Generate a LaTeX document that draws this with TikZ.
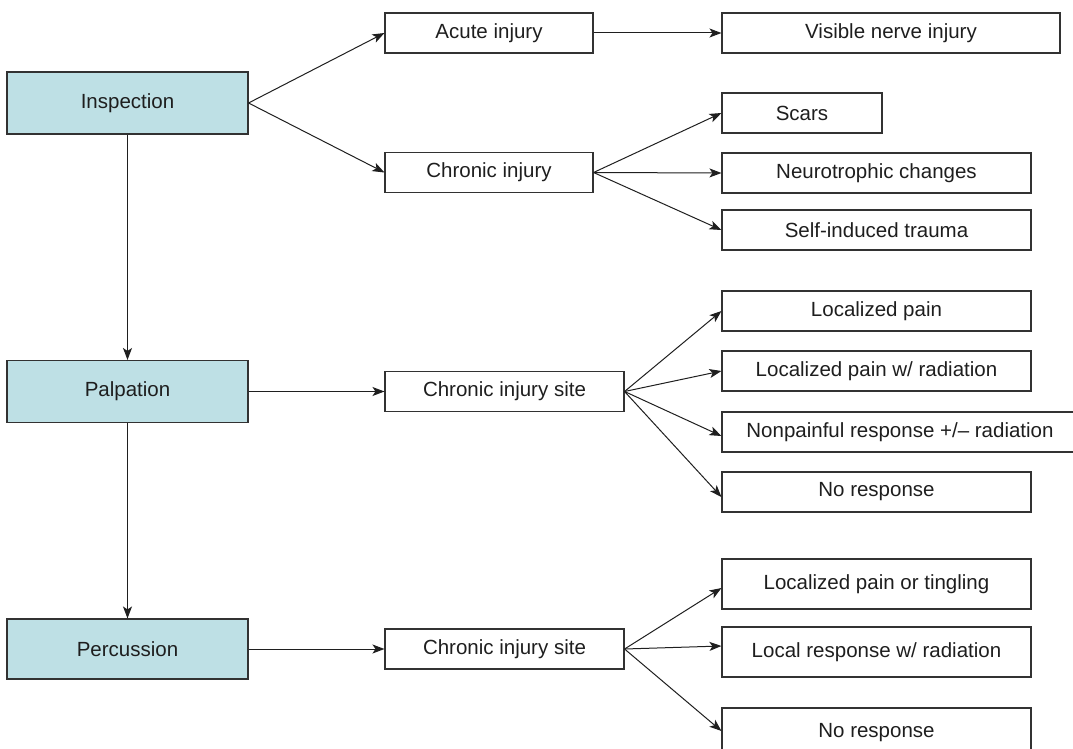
\documentclass[tikz,border=0pt]{standalone}
\usepackage{fontspec}
\setmainfont{Liberation Sans}
\usetikzlibrary{arrows.meta}
\definecolor{boxblue}{RGB}{190,224,229}
\definecolor{edgegray}{RGB}{50,50,50}
\definecolor{txtgray}{RGB}{30,30,30}
\begin{document}
\begin{tikzpicture}[x=1pt,y=-1pt,
  box/.style={draw=edgegray, line width=1.1pt, inner sep=0pt, text=txtgray,
    font=\fontsize{20.5}{24}\selectfont, minimum height=40pt},
  mainbox/.style={box, fill=boxblue, minimum width=241pt, minimum height=62pt},
  arr/.style={draw=black!88, line width=1pt, -{Stealth[length=12pt,width=9pt,inset=3pt]}}]
\useasboundingbox (0,0) rectangle (1073,749);
% left column
\node[mainbox] (insp) at (127.5,103) {Inspection};
\node[mainbox] (palp) at (127.5,391.5) {Palpation};
\node[mainbox, minimum height=60pt] (perc) at (127.5,649) {Percussion};
% inspection branch
\node[box, minimum width=208pt] (acute) at (489,33) {Acute injury};
\node[box, minimum width=338pt] (visible) at (891,33) {Visible nerve injury};
\node[box, minimum width=208pt] (chronic) at (489,172.5) {Chronic injury};
\node[box, minimum width=160pt] (scars) at (802,113) {Scars};
\node[box, minimum width=309pt] (neuro) at (876.5,173) {Neurotrophic changes};
\node[box, minimum width=309pt] (selfind) at (876.5,230) {Self-induced trauma};
% palpation branch
\node[box, minimum width=239pt] (siteA) at (504.5,391.5) {Chronic injury site};
\node[box, minimum width=309pt] (lp) at (876.5,311) {Localized pain};
\node[box, minimum width=309pt] (lpr) at (876.5,371) {Localized pain w/ radiation};
\node[box, minimum width=363pt] (np) at (903.5,432) {\hspace*{-7pt}Nonpainful response +/– radiation};
\node[box, minimum width=309pt] (nrA) at (876.5,492) {No response};
% percussion branch
\node[box, minimum width=239pt] (siteB) at (504.5,649) {Chronic injury site};
\node[box, minimum width=309pt, minimum height=50pt] (lpt) at (876.5,584) {Localized pain or tingling};
\node[box, minimum width=309pt, minimum height=50pt] (lrr) at (876.5,652) {Local response w/ radiation};
\node[box, minimum width=309pt, minimum height=50pt] (nrB) at (876.5,733) {No response};
% connectors
\draw[arr] (insp.south) -- (palp.north);
\draw[arr] (palp.south) -- (perc.north);
\draw[arr] (insp.east) -- (acute.west);
\draw[arr] (insp.east) -- (chronic.west);
\draw[arr] (acute.east) -- (visible.west);
\draw[arr] (chronic.east) -- (scars.west);
\draw[arr] (chronic.east) -- (neuro.west);
\draw[arr] (chronic.east) -- (selfind.west);
\draw[arr] (palp.east) -- (siteA.west);
\draw[arr] (siteA.east) -- (lp.west);
\draw[arr] (siteA.east) -- (lpr.west);
\draw[arr] (siteA.east) -- ([yshift=-4pt]np.west);
\draw[arr] (siteA.east) -- ([yshift=-5pt]nrA.west);
\draw[arr] (perc.east) -- (siteB.west);
\draw[arr] (siteB.east) -- ([yshift=-4pt]lpt.west);
\draw[arr] (siteB.east) -- ([yshift=6pt]lrr.west);
\draw[arr] (siteB.east) -- ([yshift=2pt]nrB.west);
\end{tikzpicture}
\end{document}
